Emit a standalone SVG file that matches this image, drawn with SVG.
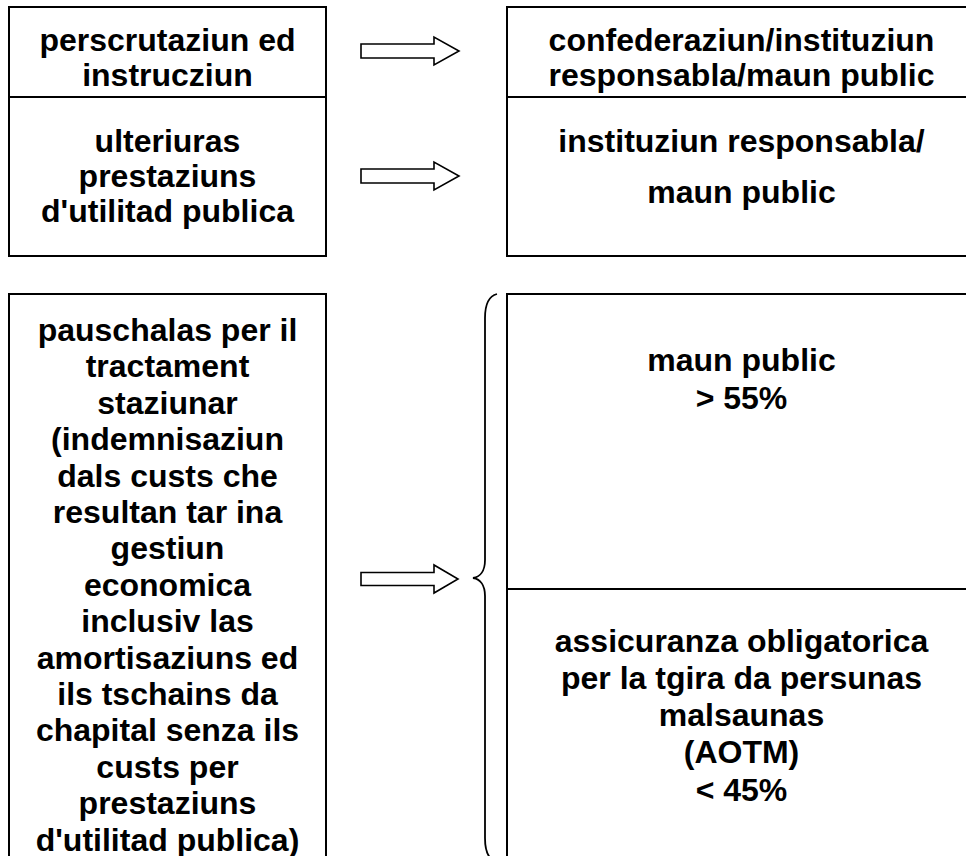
<svg xmlns="http://www.w3.org/2000/svg" width="966" height="856" viewBox="0 0 966 856">
<style>
.box{fill:#fff;stroke:#000;stroke-width:2}
.div{stroke:#000;stroke-width:2}
.arr{fill:#fff;stroke:#000;stroke-width:1.6;stroke-linejoin:miter}
.brace{fill:none;stroke:#000;stroke-width:1.8}
text{font-family:"Liberation Sans",Arial,sans-serif;font-weight:bold;font-size:32px;fill:#000;text-anchor:middle}
.l{}
</style>
<rect width="966" height="856" fill="#fff"/>
<g id="n-left-top">
<rect class="box" x="9" y="7" width="317" height="249"/>
<line class="div" x1="9" y1="97" x2="326" y2="97"/>
<text x="167.5" y="50.5">perscrutaziun ed</text>
<text x="167.5" y="85.5">instrucziun</text>
<text x="167.5" y="151.5">ulteriuras</text>
<text x="167.5" y="186.5">prestaziuns</text>
<text x="167.5" y="221.5">d'utilitad publica</text>
</g>
<g id="n-right-top">
<rect class="box" x="507" y="7" width="470" height="249"/>
<line class="div" x1="507" y1="97" x2="977" y2="97"/>
<text x="741.5" y="50.5">confederaziun/instituziun</text>
<text x="741.5" y="85.5">responsabla/maun public</text>
<text x="741.5" y="152">instituziun responsabla/</text>
<text x="741.5" y="203">maun public</text>
</g>
<g id="n-left-bottom">
<rect class="box" x="9" y="294" width="317" height="600"/>
<text x="167.5" y="341">pauschalas per il</text>
<text x="167.5" y="377.4">tractament</text>
<text x="167.5" y="413.8">staziunar</text>
<text x="167.5" y="450.2">(indemnisaziun</text>
<text x="167.5" y="486.6">dals custs che</text>
<text x="167.5" y="523">resultan tar ina</text>
<text x="167.5" y="559.4">gestiun</text>
<text x="167.5" y="595.8">economica</text>
<text x="167.5" y="632.2">inclusiv las</text>
<text x="167.5" y="668.6">amortisaziuns ed</text>
<text x="167.5" y="705">ils tschains da</text>
<text x="167.5" y="741.4">chapital senza ils</text>
<text x="167.5" y="777.8">custs per</text>
<text x="167.5" y="814.2">prestaziuns</text>
<text x="167.5" y="850.6">d'utilitad publica)</text>
</g>
<g id="n-right-bottom">
<rect class="box" x="507" y="294" width="470" height="600"/>
<line class="div" x1="507" y1="589" x2="977" y2="589"/>
<text x="741.5" y="370.5">maun public</text>
<text x="741.5" y="408.5">&gt; 55%</text>
<text x="741.5" y="652">assicuranza obligatorica</text>
<text x="741.5" y="689">per la tgira da persunas</text>
<text x="741.5" y="726">malsaunas</text>
<text x="741.5" y="763">(AOTM)</text>
<text x="741.5" y="800.5">&lt; 45%</text>
</g>
<g id="connectors">
<polygon class="arr" points="361,44 434,44 434,37 459,51 434,65 434,58 361,58"/>
<polygon class="arr" points="361,169 434,169 434,162 459,176 434,190 434,183 361,183"/>
<polygon class="arr" points="361,572.5 434,572.5 434,565 458,579 434,593 434,585.5 361,585.5"/>
<path class="brace" d="M497,294 C489,296 485,304 485,318 L485,560 C485,571 480,577 473,578 C480,579 485,585 485,596 L485,838 C485,852 489,860 497,862"/>
</g>
</svg>
